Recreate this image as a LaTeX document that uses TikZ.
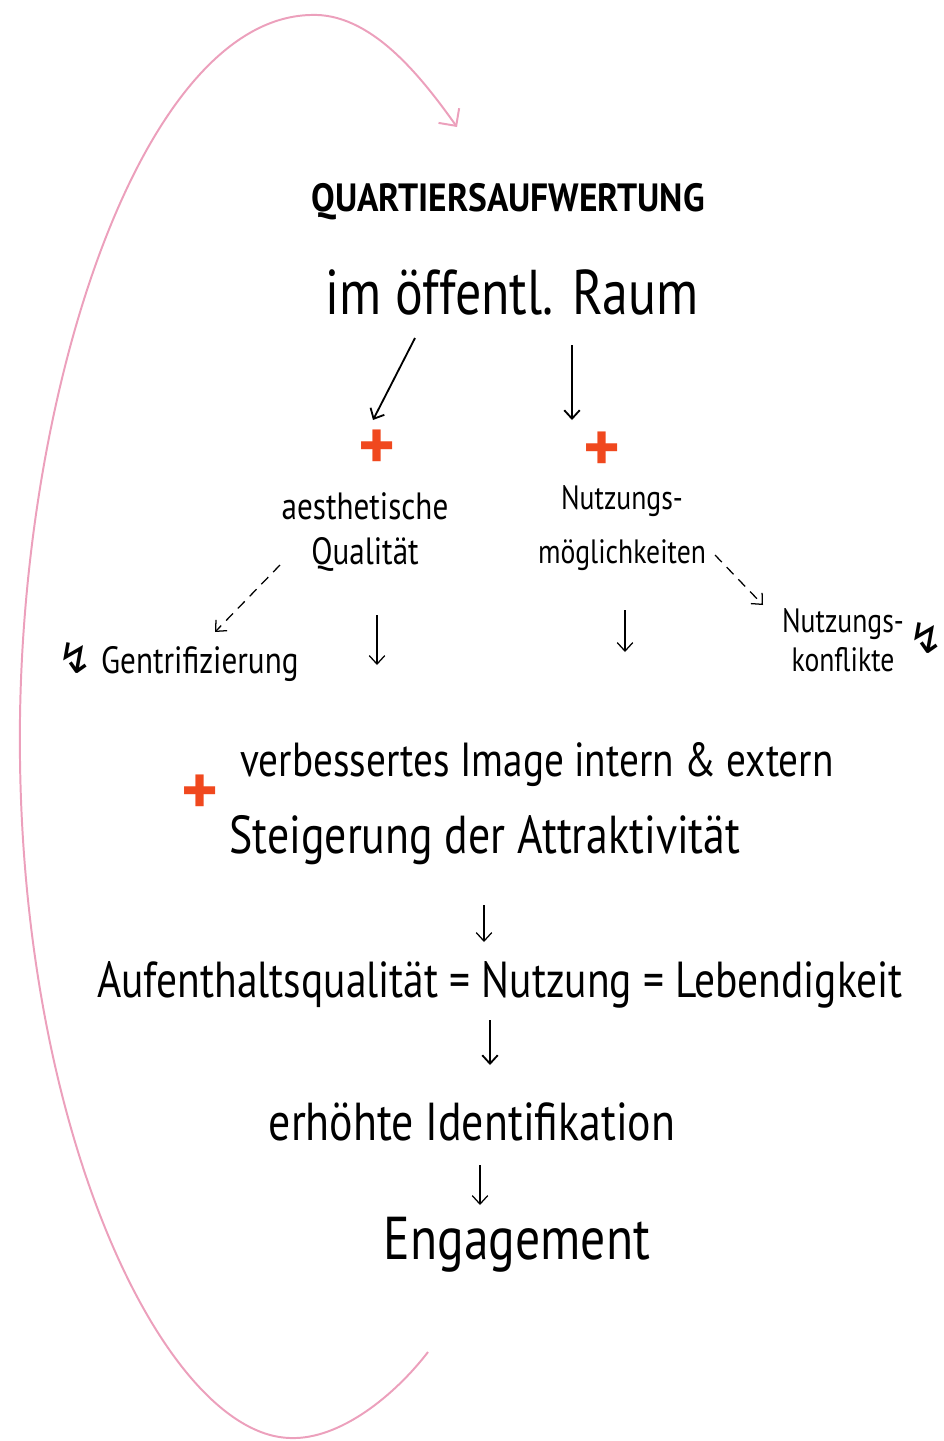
\documentclass[tikz,border=0pt]{standalone}
\usepackage{fontspec}
\setmainfont{PT Sans}
\newfontfamily\handfont[FakeStretch=0.82]{PT Sans}
\newfontfamily\symfont{DejaVu Sans}
\usetikzlibrary{arrows.meta}
\definecolor{loopPink}{RGB}{236,160,188}
\definecolor{plusRed}{RGB}{240,72,30}

\tikzset{
	hand/.style 2 args={font=\handfont\fontsize{#1}{#2}\selectfont, inner sep=0pt},
	plus/.style={text=plusRed, font=\bfseries\fontsize{50}{50}\selectfont, inner sep=0pt},
	headline/.style={font=\bfseries\fontsize{28}{28}\selectfont, inner sep=0pt},
	arr/.style={-{Straight Barb[length=6pt,width=11pt]}, line width=1.3pt},
	thinarr/.style={arr, line width=0.9pt},
	dasharr/.style={thinarr, dash pattern=on 7pt off 5pt},
	cyclearrow/.style={-{Straight Barb[length=9pt,width=18pt]}, line width=1.4pt, loopPink},
}

\begin{document}
\begin{tikzpicture}[x=0.025cm,y=-0.025cm]

	\useasboundingbox (0,0) rectangle (943,1441);

	% big loop back to the top
	\draw[cyclearrow] (428,1352) .. controls (395,1395) and (340,1440) .. (290,1438)
		.. controls (170,1435) and (25,1150) .. (20,760)
		.. controls (15,400) and (140,20) .. (310,15)
		.. controls (370,12) and (420,75) .. (457,127);

	% title
	\node[headline] (title) at (508,202) {\scalebox{0.9}[1]{QUARTIERSAUFWERTUNG}};

	% labels
	\node[hand={45}{50}] (raum) at (512,292) {im öffentl. Raum};
	\node[plus] (plusA) at (377,450) {+};
	\node[plus] (plusB) at (602,452) {+};
	\node[hand={27}{32},align=center] (aesth) at (365,532) {aesthetische\\Qualität};
	\node[hand={24}{38},align=center] (nutzm) at (622,528) {Nutzungs-\\möglichkeiten};
	\node[hand={27}{30}] (gentri) at (178,662) {{\symfont\fontsize{30}{30}\selectfont ↯} Gentrifizierung};
	\node[hand={24}{28},align=center] (konfl) at (843,640) {Nutzungs-\\konflikte};
	\node[hand={30}{30}] (blitz) at (926,638) {\symfont ↯};
	\node[plus] (plusC) at (200,795) {+};
	\node[hand={34}{38}] (image) at (537,765) {verbessertes Image intern \& extern};
	\node[hand={38}{42}] (steig) at (485,840) {Steigerung der Attraktivität};
	\node[hand={36}{40}] (aufent) at (500,985) {Aufenthaltsqualität = Nutzung = Lebendigkeit};
	\node[hand={38}{42}] (ident) at (472,1122) {erhöhte Identifikation};
	\node[hand={43}{48}] (engage) at (517,1245) {Engagement};

	% arrows
	\draw[arr] ([shift={(-97,46)}]raum.center) -- ([shift={(-4,-30)}]plusA.center); % raum to aesthetics
	\draw[arr] ([shift={(60,53)}]raum.center) -- ([shift={(-30,-32)}]plusB.center); % raum to use
	\draw[dasharr] ([shift={(-85,33)}]aesth.center) -- ([shift={(37,-30)}]gentri.center);
	\draw[thinarr] ([shift={(12,83)}]aesth.center) -- ++(0,50);
	\draw[thinarr] ([shift={(3,82)}]nutzm.center) -- ++(0,42);
	\draw[dasharr] ([shift={(93,27)}]nutzm.center) -- ([shift={(-80,-35)}]konfl.center);
	\draw[thinarr] ([shift={(-1,65)}]steig.center) -- ([shift={(-16,-43)}]aufent.center);
	\draw[arr] ([shift={(-10,35)}]aufent.center) -- ([shift={(18,-57)}]ident.center);
	\draw[thinarr] ([shift={(8,43)}]ident.center) -- ([shift={(-37,-40)}]engage.center);

\end{tikzpicture}
\end{document}
